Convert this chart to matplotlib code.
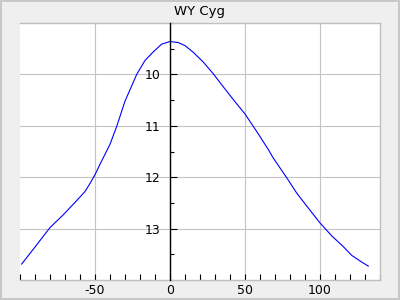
import numpy as np
import matplotlib.pyplot as plt
from matplotlib.ticker import MultipleLocator

plt.rcParams['axes.unicode_minus'] = False

# light curve of WY Cyg (phase in days vs magnitude)
phase = [-98.9, -91.1, -80, -71.1, -61.1, -56.7, -53.3, -50, -45.5, -40, -35.5, -30, -22.2,
         -16.7, -11.1, -5.5, 0, 5.5, 10, 15.5, 22.2, 28.9, 35.5, 42.2, 50, 57.8, 65.5,
         68.9, 77.8, 84.5, 92.2, 100, 107.8, 115.5, 121.1, 126.7, 132.2]
mag = [13.69, 13.40, 12.98, 12.73, 12.42, 12.28, 12.12, 11.95, 11.68, 11.36, 11.01, 10.52, 10.00,
       9.73, 9.56, 9.41, 9.36, 9.38, 9.44, 9.57, 9.76, 9.99, 10.24, 10.49, 10.77, 11.11, 11.46,
       11.63, 12.01, 12.31, 12.60, 12.89, 13.14, 13.35, 13.52, 13.63, 13.73]
xticks = [-50, 0, 50, 100]
yticks = [10, 11, 12, 13]

fig = plt.figure(figsize=(4, 3), dpi=100)
fig.patch.set_facecolor('#efefef')
fig.patch.set_edgecolor('#c8c8c8')
fig.patch.set_linewidth(1.5)
ax = fig.add_axes([0.05, 0.0667, 0.90, 0.8566])
ax.set_facecolor('white')

ax.plot(phase, mag, color='blue', lw=0.8)

ax.set_xlim(-100, 140)
ax.set_ylim(14, 9)
ax.set_xticks(xticks)
ax.set_yticks(yticks)
ax.set_xticklabels([str(t) for t in xticks])
ax.set_yticklabels([str(t) for t in yticks])
ax.xaxis.set_minor_locator(MultipleLocator(10))
ax.yaxis.set_minor_locator(MultipleLocator(0.5))
ax.grid(True, color='#c4c4c4', lw=0.8)
ax.set_axisbelow(True)

for s in ['top', 'right', 'bottom']:
    ax.spines[s].set_color('#c0c0c0')
    ax.spines[s].set_linewidth(1)
ax.spines['left'].set_position(('data', 0))
ax.spines['left'].set_color('black')
ax.spines['left'].set_linewidth(1)
ax.spines['left'].set_zorder(3)

ax.tick_params(axis='x', which='both', direction='in', length=4, width=0.8, labelsize=9, pad=3)
ax.tick_params(axis='y', which='major', direction='in', length=5, width=0.8, labelsize=9, pad=7)
ax.tick_params(axis='y', which='minor', direction='in', length=3, width=0.8)

ax.set_title('WY Cyg', fontsize=9.5, pad=6)
fig.savefig('out.png', dpi=100, facecolor=fig.get_facecolor(), edgecolor=fig.get_edgecolor())
